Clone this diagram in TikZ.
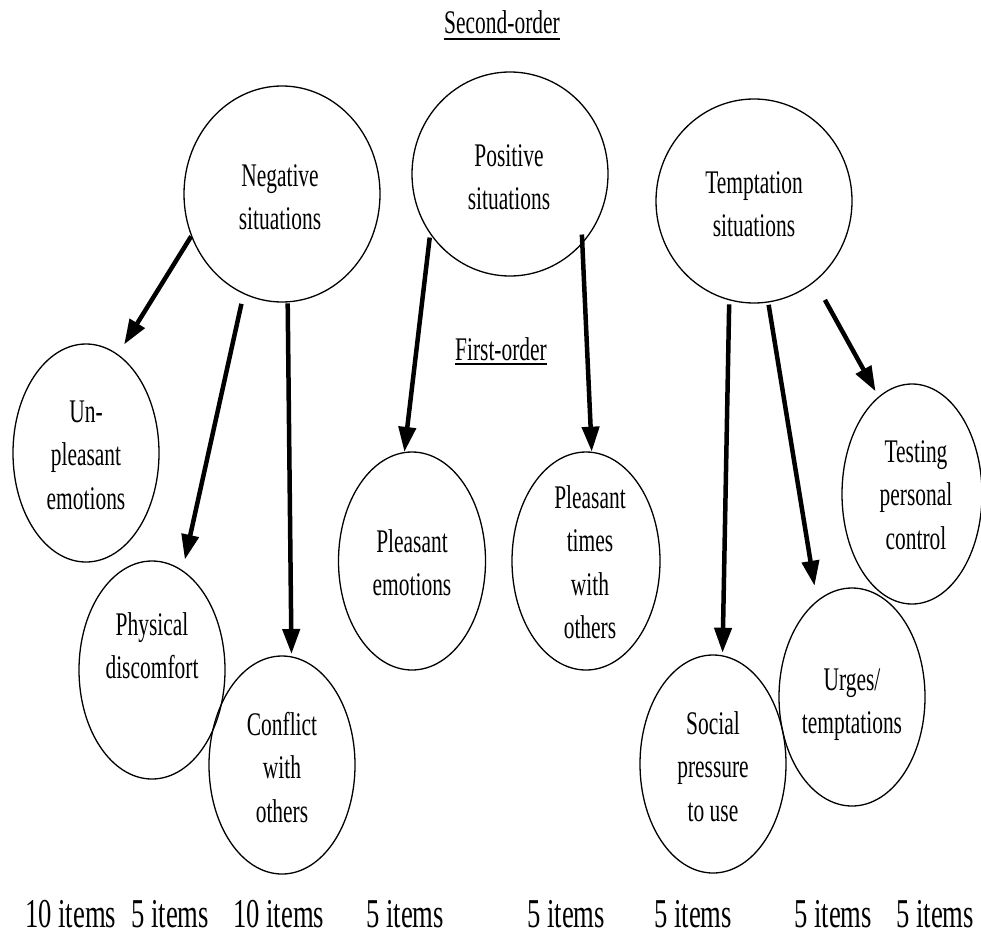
\documentclass[tikz,border=0pt]{standalone}
\usepackage{fontspec}
\setmainfont{Liberation Serif}[FakeStretch=0.65]
\usetikzlibrary{arrows.meta,shapes.geometric}
\begin{document}
\begin{tikzpicture}[x=1pt,y=-1pt,
  bubble/.style={draw,ellipse,line width=1.3pt,inner sep=0pt},
  big/.style={bubble,minimum width=196pt,minimum height=#1},
  small/.style={bubble,minimum width=146pt,minimum height=218pt},
  lbl/.style={font=\fontsize{33}{43.5}\selectfont,align=center,inner sep=0pt,anchor=north},
  count/.style={font=\fontsize{41}{48}\selectfont,inner sep=0pt,anchor=base west},
  heading/.style={font=\fontsize{33}{40}\selectfont,inner sep=0pt,anchor=base},
  link/.style={line width=4.5pt,-{Triangle[length=25pt,width=17pt]}},
]
\useasboundingbox (0,0) rectangle (981,934);

% second-order factors
\node[big=216pt] (neg)  at (282,194) {};
\node[big=204pt] (pos)  at (510,174) {};
\node[big=204pt] (temp) at (754,201) {};

% first-order factors
\node[small] (unp)    at (86,453)  {};
\node[small] (phys)   at (152,670) {};
\node[small] (confl)  at (282,765) {};
\node[small,minimum width=147pt] (pemo)   at (412,561) {};
\node[small,minimum width=148pt] (ptimes) at (586,561) {};
\node[small] (social) at (713,764) {};
\node[small] (urges)  at (852,697) {};
\node[small,minimum width=140pt,minimum height=220pt] (testing) at (912,494) {};

% labels inside the bubbles
\node[lbl] (negtxt)  at (280,155.5) {\strut Negative\\situations};
\node[lbl] (postxt)  at (509,135.5) {\strut Positive\\situations};
\node[lbl] (temptxt) at (754,162.5) {\strut Temptation\\situations};
\node[lbl] (unptxt)  at (86,391.5)  {\strut Un-\\pleasant\\emotions};
\node[lbl] (phystxt) at (152,604.5) {\strut Physical\\discomfort};
\node[lbl] (confltxt) at (282,704.5) {\strut Conflict\\with\\others};
\node[lbl] (pemotxt) at (412,521.5) {\strut Pleasant\\emotions};
\node[lbl] (ptimestxt) at (590,477.5) {\strut Pleasant\\times\\with\\others};
\node[lbl] (testtxt) at (916,431.5) {\strut Testing\\personal\\control};
\node[lbl] (urgetxt) at (852,659.5) {\strut Urges/\\temptations};
\node[lbl] (soctxt)  at (713,703.5) {\strut Social\\pressure\\to use};

% level headings
\node[heading] (second) at (502,34) {Second-order};
\draw[line width=1.3pt] ([yshift=-5pt]second.base west) -- ([yshift=-5pt]second.base east);
\node[heading] (first) at (501,360) {First-order};
\draw[line width=1.3pt] ([yshift=-4pt]first.base west) -- ([yshift=-4pt]first.base east);

% arrows from second-order to first-order factors
\draw[link,shorten >=11.5pt] (neg.205.5) -- (unp.72.8);
\draw[link,shorten <=10pt,shorten >=10.9pt] (neg.249.4) -- (phys.73.3);
\draw[link,shorten <=1pt,shorten >=2.3pt] (neg.273.7) -- (confl.85.8);
\draw[link,shorten <=3.4pt] (pos.217.1) -- (pemo.94.2);
\draw[link,shorten <=-9.3pt] (pos.316.8) -- (ptimes.87.4);
\draw[link,shorten <=4pt,shorten >=2.5pt] (temp.256.9) -- (social.85.4);
\draw[link,shorten <=2.3pt,shorten >=15pt] (temp.278.8) -- (urges.110.6);
\draw[link,shorten <=20.7pt,shorten >=6pt] (temp.307.6) -- (testing.109.4);

% item counts
\node[count] (c1) at (25,927)  {10 items};
\node[count] (c2) at (131,927) {5 items};
\node[count] (c3) at (233,927) {10 items};
\node[count] (c4) at (366,927) {5 items};
\node[count] (c5) at (527,927) {5 items};
\node[count] (c6) at (654,927) {5 items};
\node[count] (c7) at (794,927) {5 items};
\node[count] (c8) at (896,927) {5 items};
\end{tikzpicture}
\end{document}
